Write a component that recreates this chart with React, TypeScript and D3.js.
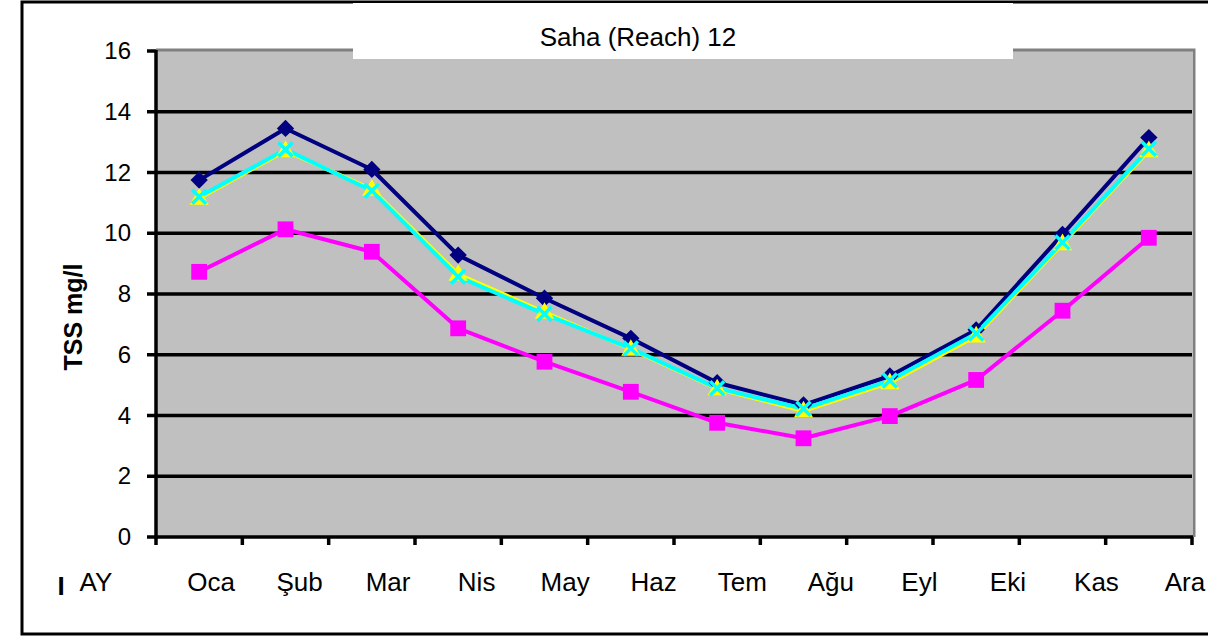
import React from "react";
import * as d3 from "d3";

// aylar (months) and the TSS values
const months = ["Oca", "Şub", "Mar", "Nis", "May", "Haz", "Tem", "Ağu", "Eyl", "Eki", "Kas", "Ara"];
const yTicks = [0, 2, 4, 6, 8, 10, 12, 14, 16];

const navyValues = [11.75, 13.45, 12.1, 9.28, 7.86, 6.54, 5.08, 4.35, 5.3, 6.82, 9.96, 13.15];
const magentaValues = [8.73, 10.13, 9.39, 6.87, 5.77, 4.78, 3.76, 3.25, 3.98, 5.17, 7.45, 9.85];
const yellowValues = [11.15, 12.72, 11.45, 8.65, 7.4, 6.18, 4.88, 4.15, 5.08, 6.62, 9.66, 12.72];
const cyanValues = [11.2, 12.76, 11.4, 8.57, 7.34, 6.21, 4.9, 4.22, 5.15, 6.7, 9.7, 12.78];

const title = "Saha (Reach) 12";
const yTitle = "TSS mg/l";
const xTitle = "AY";

const FONT = "'Liberation Sans', Arial, sans-serif";

const W = 1208;
const H = 636;
const plot = { left: 156, right: 1192, top: 51, bottom: 537 };

export default function App() {
  const x = d3.scaleBand().domain(months).range([plot.left, plot.right]).padding(0);
  const y = d3.scaleLinear().domain([0, 16]).range([plot.bottom, plot.top]);
  const cx = (m: string) => (x(m) as number) + x.bandwidth() / 2;
  const labelX = d3.scalePoint().domain(months).range([211, 1185]);

  const boundaries = months.map((m) => x(m) as number).concat([plot.right]);

  const line = d3
    .line<number>()
    .x((d, i) => cx(months[i]))
    .y((d) => y(d));

  const diamond = d3.symbol().type(d3.symbolSquare).size(150)();
  const square = d3.symbol().type(d3.symbolSquare).size(250)();
  const triangle = d3.symbol().type(d3.symbolTriangle).size(160)();
  const cross = "M-7,-7L7,7M-7,7L7,-7";

  const series = [
    { values: navyValues, color: "#000080", width: 4 },
    { values: magentaValues, color: "#FF00FF", width: 4 },
    { values: yellowValues, color: "#FFFF00", width: 4 },
    { values: cyanValues, color: "#00FFFF", width: 4 },
  ];

  return (
    <svg
      width={W}
      height={H}
      style={{ position: "absolute", left: 0, top: 0, background: "#fff" }}
      fontFamily={FONT}
    >
      {/* outer frame */}
      <rect x={22} y={2} width={W + 20} height={H - 4} fill="#fff" stroke="#000" strokeWidth={3} />

      {/* plot area */}
      <rect x={plot.left} y={plot.top} width={plot.right - plot.left} height={plot.bottom - plot.top} fill="#C0C0C0" />
      <path
        d={`M${plot.left},${plot.top - 1}H${plot.right + 2}V${plot.bottom}`}
        fill="none"
        stroke="#808080"
        strokeWidth={3}
      />

      {yTicks.slice(1, -1).map((t) => (
        <line key={t} x1={plot.left} x2={plot.right} y1={y(t)} y2={y(t)} stroke="#000" strokeWidth={3.5} />
      ))}

      {/* title box */}
      <rect x={353} y={3} width={660} height={56} fill="#fff" />
      <text x={638} y={46} textAnchor="middle" fontSize={26} fill="#000">
        {title}
      </text>

      {/* axes */}
      <line x1={plot.left} x2={plot.left} y1={plot.top - 1} y2={plot.bottom + 2} stroke="#000" strokeWidth={3.5} />
      <line x1={plot.left - 1} x2={plot.right + 1} y1={plot.bottom} y2={plot.bottom} stroke="#000" strokeWidth={3.5} />
      {yTicks.map((t) => (
        <g key={t}>
          <line x1={plot.left - 9} x2={plot.left} y1={y(t)} y2={y(t)} stroke="#000" strokeWidth={3.5} />
          <text x={131} y={y(t) + 8} textAnchor="end" fontSize={24} fill="#000">
            {t}
          </text>
        </g>
      ))}
      {boundaries.map((b, i) => (
        <line key={i} x1={b} x2={b} y1={plot.bottom} y2={plot.bottom + 8} stroke="#000" strokeWidth={3.5} />
      ))}

      {/* series */}
      {series.map((s, i) => (
        <path key={i} d={line(s.values) || ""} fill="none" stroke={s.color} strokeWidth={s.width} strokeLinejoin="round" />
      ))}
      {navyValues.map((v, i) => (
        <path key={i} d={diamond} transform={`translate(${cx(months[i])},${y(v)}) rotate(45)`} fill="#000080" />
      ))}
      {magentaValues.map((v, i) => (
        <path key={i} d={square} transform={`translate(${cx(months[i])},${y(v)})`} fill="#FF00FF" />
      ))}
      {yellowValues.map((v, i) => (
        <path key={i} d={triangle} transform={`translate(${cx(months[i])},${y(v) + 1})`} fill="#FFFF00" />
      ))}
      {cyanValues.map((v, i) => (
        <path key={i} d={cross} transform={`translate(${cx(months[i])},${y(v)})`} fill="none" stroke="#00FFFF" strokeWidth={3.5} />
      ))}

      {/* y axis title */}
      <text
        transform={`translate(82,317) rotate(-90)`}
        textAnchor="middle"
        fontSize={25}
        fontWeight="bold"
        fill="#000"
      >
        {yTitle}
      </text>

      {/* x axis label row */}
      <text x={61} y={595} textAnchor="middle" fontSize={26} fontWeight="bold" fill="#000">
        I
      </text>
      <text x={96} y={591} textAnchor="middle" fontSize={26} fill="#000">
        {xTitle}
      </text>
      {months.map((m) => (
        <text key={m} x={labelX(m)} y={591} textAnchor="middle" fontSize={26} fill="#000">
          {m}
        </text>
      ))}
    </svg>
  );
}
